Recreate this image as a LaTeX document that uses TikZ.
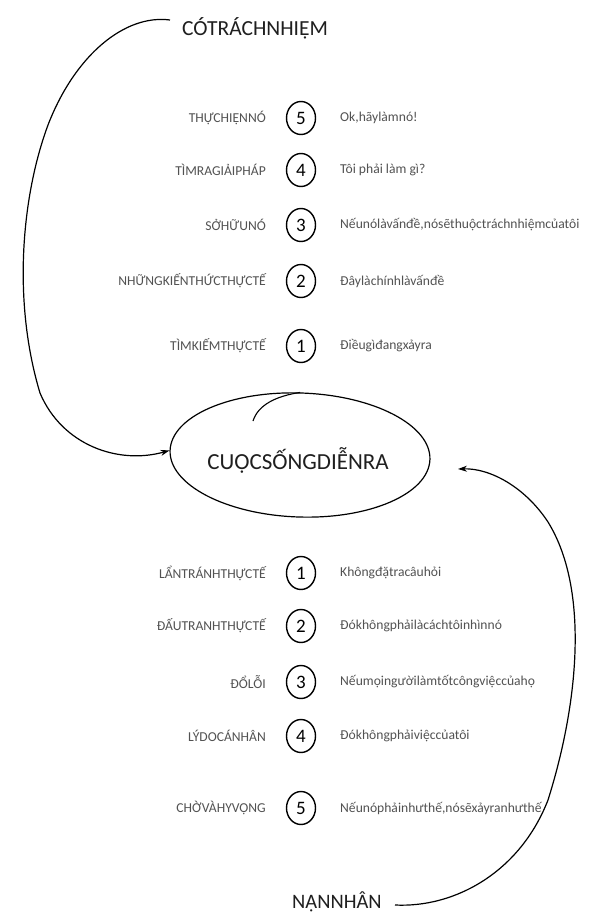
\documentclass[tikz,border=0pt]{standalone}
\usepackage{fontspec}
\setmainfont{Carlito}
\usetikzlibrary{arrows.meta,shapes.geometric}
\begin{document}
\begin{tikzpicture}[x=1pt,y=-1pt,
 lab/.style={anchor=east,inner sep=0pt,text=black!68,font=\fontsize{13.6}{15}\selectfont},
 desc/.style={anchor=west,inner sep=0pt,text=black!68,font=\fontsize{13.6}{15}\selectfont},
 num/.style={draw,line width=1.4pt,ellipse,minimum width=29pt,minimum height=33pt,inner sep=0pt,font=\fontsize{19}{20}\selectfont},
 big/.style={inner sep=0pt,text=black!88,font=\fontsize{21.5}{24}\selectfont},
 conn/.style={line width=1.2pt,-{Stealth[length=9pt,width=6pt]}}]
\path[use as bounding box,fill=white] (0,0) rectangle (592,913);

% titles
\node[big,anchor=west] (top) at (182,28) {CÓTRÁCHNHIỆM};
\node[big,anchor=base west,font=\fontsize{20.5}{22}\selectfont] (bot) at (292,908) {NẠNNHÂN};

% central ellipse
\node[draw,ellipse,line width=1.2pt,rotate=-2,minimum width=260pt,minimum height=124pt,inner sep=0pt] (life) at (300,455) {};
\node[big,font=\fontsize{23}{25}\selectfont] (lifetext) at (298,460) {CUỘCSỐNGDIỄNRA};
\draw[line width=1.1pt] ([xshift=-2pt]life.north) .. controls (276,396) and (258,405) .. (253,421);

% upper rows
\node[num] (u5) at (301,118) {5};
\node[lab] (ul5) at (266,118) {THỰCHIỆNNÓ};
\node[desc] (ud5) at (340,118) {Ok,hãylàmnó!};

\node[num] (u4) at (301,170) {4};
\node[lab] (ul4) at (266,170) {TÌMRAGIẢIPHÁP};
\node[desc] (ud4) at (340,170) {Tôi phải làm gì?};

\node[num] (u3) at (301,225) {3};
\node[lab] (ul3) at (266,225) {SỞHỮUNÓ};
\node[desc] (ud3) at (340,225) {Nếunólàvấnđề,nósẽthuộctráchnhiệmcủatôi};

\node[num] (u2) at (301,281) {2};
\node[lab] (ul2) at (266,281) {NHỮNGKIẾNTHỨCTHỰCTẾ};
\node[desc] (ud2) at (340,281) {Đâylàchínhlàvấnđề};

\node[num] (u1) at (301,346) {1};
\node[lab] (ul1) at (266,346) {TÌMKIẾMTHỰCTẾ};
\node[desc] (ud1) at (340,346) {Điềugìđangxảyra};

% lower rows
\node[num] (l1) at (301,573) {1};
\node[lab] (ll1) at (266,573) {LẨNTRÁNHTHỰCTẾ};
\node[desc] (ld1) at (340,573) {Khôngđặtracâuhỏi};

\node[num] (l2) at (301,626) {2};
\node[lab] (ll2) at (266,626) {ĐẤUTRANHTHỰCTẾ};
\node[desc] (ld2) at (340,626) {Đókhôngphảilàcáchtôinhìnnó};

\node[num] (l3) at (301,682) {3};
\node[lab] (ll3) at (266,682) {ĐỔLỖI};
\node[desc] (ld3) at (340,682) {Nếumọingườilàmtốtcôngviệccủahọ};

\node[num] (l4) at (301,736) {4};
\node[lab] (ll4) at (266,736) {LÝDOCÁNHÂN};
\node[desc] (ld4) at (340,736) {Đókhôngphảiviệccủatôi};

\node[num] (l5) at (301,808) {5};
\node[lab] (ll5) at (266,808) {CHỜVÀHYVỌNG};
\node[desc] (ld5) at (340,808) {Nếunóphảinhưthế,nósẽxảyranhưthế};

% connectors
\coordinate (ltail) at (170,20);
\coordinate (rtail) at (395,905);
\coordinate (rtip) at (458,469);
\draw[conn] (ltail) .. controls (125,14) and (75,55) .. (48,125)
  .. controls (22,195) and (12,300) .. (40,393)
  .. controls (62,445) and (118,465) .. (life.west);
\draw[conn] (rtail) .. controls (455,908) and (520,872) .. (548,800)
  .. controls (578,705) and (590,590) .. (548,522)
  .. controls (525,487) and (490,468) .. (rtip);
\end{tikzpicture}
\end{document}
